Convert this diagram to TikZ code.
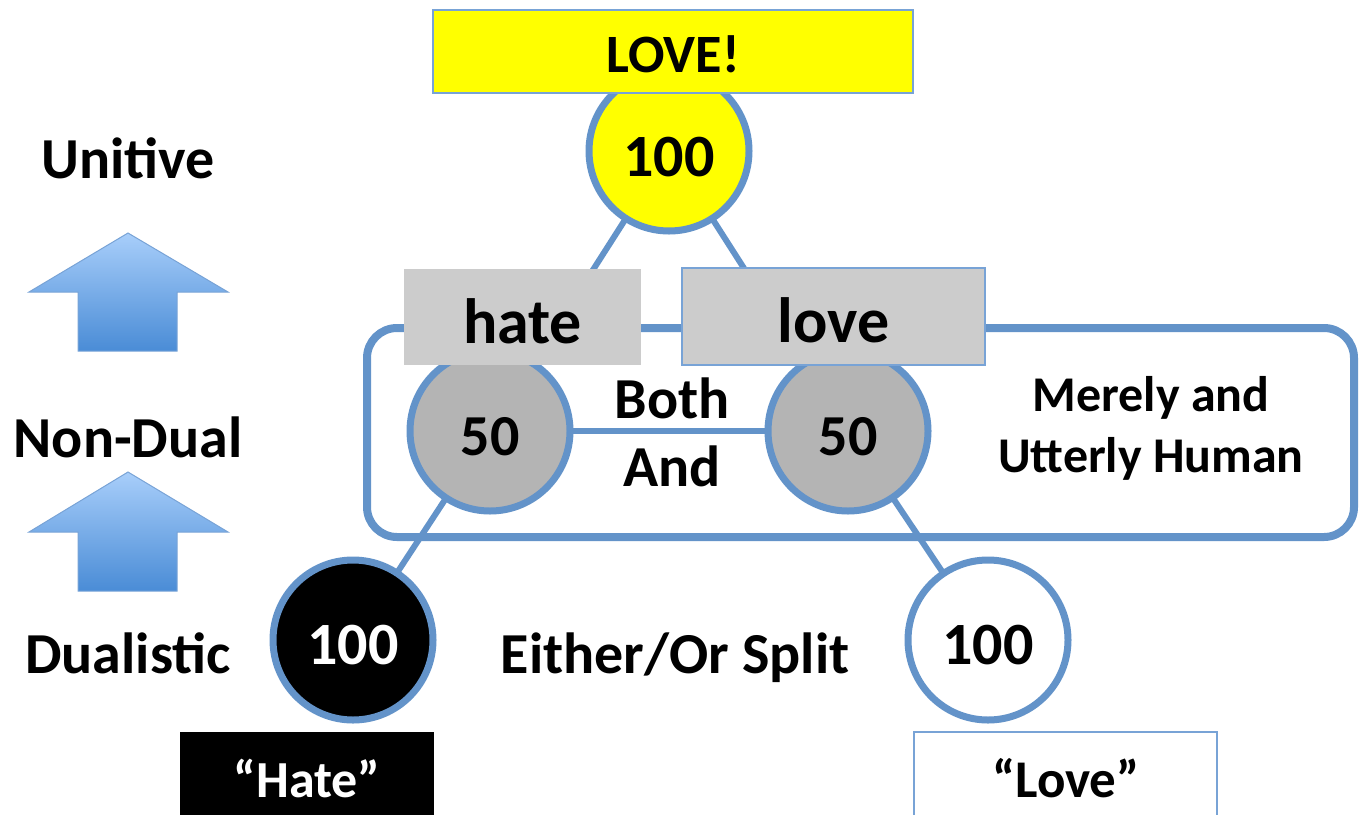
\documentclass[tikz,border=0pt]{standalone}
\usepackage{fontspec}
\setmainfont{Carlito}
\usetikzlibrary{shadows}
\definecolor{cblue}{RGB}{99,147,201}
\definecolor{thinblue}{RGB}{120,163,214}
\definecolor{boxgray}{RGB}{204,204,204}
\definecolor{circgray}{RGB}{180,180,180}
\definecolor{arrtop}{RGB}{168,206,250}
\definecolor{arrbot}{RGB}{74,140,214}
\definecolor{pyellow}{RGB}{255,255,0}
\newcommand{\fs}[1]{\fontsize{#1}{#1}\selectfont\bfseries}
\newcommand{\dn}[2]{\raisebox{-#1}[\height][\depth]{#2}}
\tikzset{
  conn/.style={draw=cblue, line width=3pt},
  circ/.style={circle, draw=cblue, line width=3.5pt, minimum size=80pt, inner sep=0pt,
     font=\fs{30}, drop shadow={opacity=0.2, shadow xshift=0.6pt, shadow yshift=-1.6pt}},
  lbl/.style={font=\fs{29}, inner sep=0pt, align=center},
  uparrow/.style={draw=thinblue, line width=0.5pt, top color=arrtop, bottom color=arrbot},
}
\begin{document}
\begin{tikzpicture}[x=0.5pt, y=-0.5pt]
\useasboundingbox (0,0) rectangle (1359,814);

% left level labels and arrows
\node[lbl] (unitive) at (128,158) {Unitive};
\node[lbl] (nondual) at (128,437) {Non-Dual};
\node[lbl] (dualistic) at (128,653) {Dualistic};
\path[uparrow] (128,233) -- (228,292) -- (177,292) -- (177,351) -- (78,351) -- (78,292) -- (29,292) -- cycle;
\path[uparrow] (128,472) -- (228,532) -- (177,532) -- (177,591) -- (78,591) -- (78,532) -- (29,532) -- cycle;

% rounded frame
\draw[draw=cblue, line width=4pt, rounded corners=15pt] (367,328) rectangle (1354,537);

% circle positions
\coordinate (pTop) at (669,151);
\coordinate (pL) at (490,431);
\coordinate (pR) at (848,431);
\coordinate (pB) at (353,640);
\coordinate (pW) at (988,640);

% connectors
\draw[conn] (pTop) -- (pL);
\draw[conn] (pTop) -- (pR);
\draw[conn] (pL) -- (pR);
\draw[conn] (pL) -- (pB);
\draw[conn] (pR) -- (pW);

% circles
\node[circ, fill=pyellow] (top) at (pTop) {\dn{3pt}{100}};
\node[circ, fill=circgray, font=\fs{29}] (l50) at (pL) {\dn{3pt}{50}};
\node[circ, fill=circgray, font=\fs{29}] (r50) at (pR) {\dn{3pt}{50}};
\node[circ, fill=black, text=white] (black) at (pB) {\dn{2.5pt}{100}};
\node[circ, fill=white] (white) at (pW) {\dn{2.5pt}{100}};

% boxes
\node[rectangle, fill=pyellow, draw=thinblue, line width=0.8pt, minimum width=240pt, minimum height=41.5pt, inner sep=0pt, font=\fs{27}] (LOVE) at (673,51.5) {\dn{1.5pt}{LOVE!}};
\node[rectangle, fill=boxgray, minimum width=118.5pt, minimum height=48pt, inner sep=0pt, font=\fs{32}] (hate) at (522.5,317) {\dn{2pt}{hate}};
\node[rectangle, fill=boxgray, draw=thinblue, line width=0.8pt, minimum width=151.5pt, minimum height=48.5pt, inner sep=0pt, font=\fs{32}] (love) at (833.5,316.5) {\dn{2pt}{love}};

% middle texts
\node[lbl] (both) at (672,398) {Both};
\node[lbl] (and) at (672,466) {And};
\node[lbl, font=\fs{25}] (merely) at (1151,398) {Merely and};
\node[lbl, font=\fs{25}] (utterly) at (1151,459) {Utterly Human};
\node[lbl] (either) at (675,658) {Either/Or Split};

% bottom boxes
\node[rectangle, fill=black, minimum width=127pt, minimum height=50pt, inner sep=0pt, anchor=north west] (Hate) at (180,732) {};
\node[lbl, font=\fs{26}, text=white] (Hatetxt) at (307,778) {“Hate”};
\draw[draw=thinblue, line width=0.8pt, fill=white] (914,830) -- (914,732) -- (1217,732) -- (1217,830);
\node[lbl, font=\fs{26.5}] (Lovetxt) at (1066,778) {“Love”};
\end{tikzpicture}
\end{document}
